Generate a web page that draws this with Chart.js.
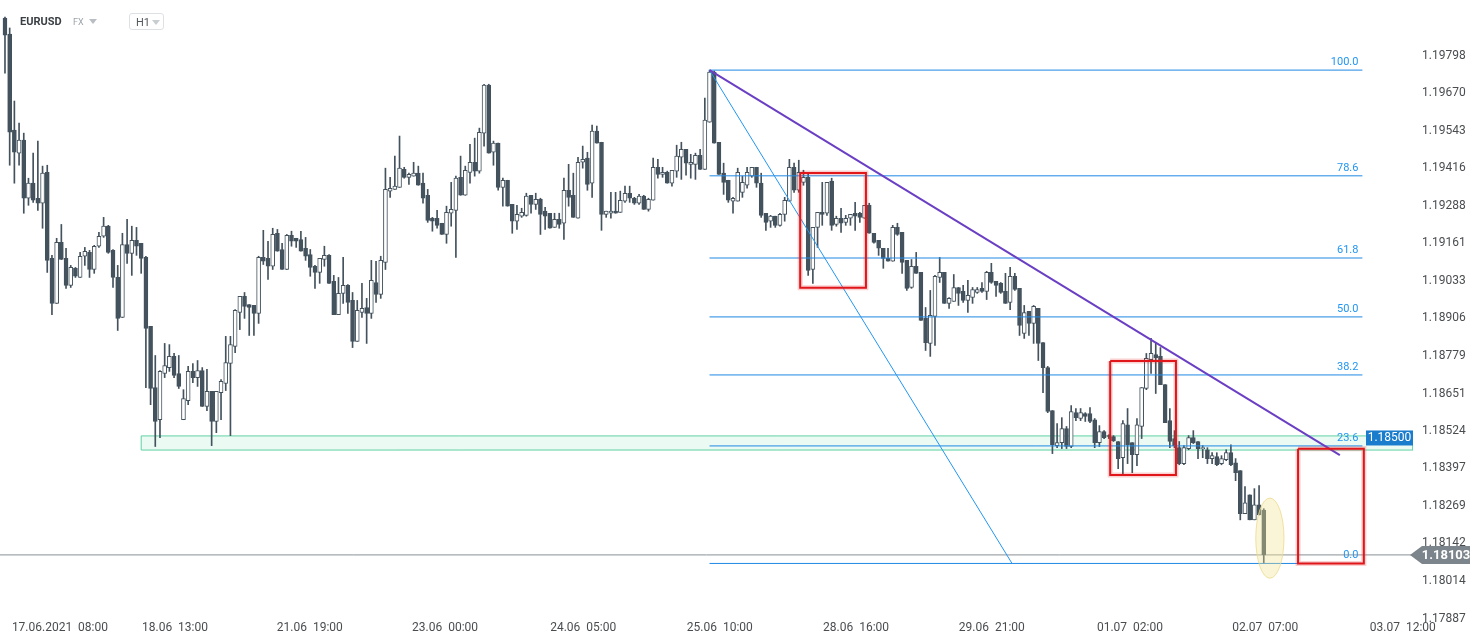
<!DOCTYPE html>
<html>
<head>
<meta charset="utf-8">
<script src="https://cdn.jsdelivr.net/npm/chart.js@4.4.1/dist/chart.umd.min.js"></script>
<style>
  body { margin: 0; background: #fff; font-family: Roboto, "Noto Sans", sans-serif; }
  #wrap { position: relative; width: 1482px; height: 643px; }
  #head { position: absolute; left: 0; top: 0; height: 40px; width: 300px; pointer-events: none; }
  .sym { position: absolute; left: 20px; top: 15px; font-size: 11px; font-weight: bold; color: #3a3f44; }
  .fx { position: absolute; left: 73px; top: 17px; font-size: 9px; color: #9aa3aa; }
  .tri { position: absolute; width: 0; height: 0; border-left: 4px solid transparent; border-right: 4px solid transparent; border-top: 5px solid #b8bec3; }
  .tf { position: absolute; left: 129px; top: 13px; width: 35px; height: 17px; border: 1px solid #dde1e4; border-radius: 3px; box-sizing: border-box; background: #fff; }
  .tf span { position: absolute; left: 6px; top: 2px; font-size: 11px; color: #55595d; }
</style>
</head>
<body>
<div id="wrap">
  <canvas id="chart" width="1482" height="643"></canvas>
  <div id="head">
    <div class="sym">EURUSD</div>
    <div class="fx">FX</div>
    <div class="tri" style="left:89px;top:19px"></div>
    <div class="tf"><span>H1</span><div class="tri" style="left:22px;top:6px;border-top-color:#c8cdd1"></div></div>
  </div>
</div>
<script>
const canvas = document.getElementById("chart").getContext("2d");

// EURUSD H1, candle by candle
const open = [
  1.19926,1.19871,1.19545,1.19467,1.19511,1.19314,1.19365,1.19314,1.19297,1.19402,
  1.19110,1.18957,1.19164,1.19110,1.19018,1.19076,1.19045,1.19117,1.19130,1.19072,
  1.19151,1.19185,1.19219,1.19137,1.19045,1.18909,1.19157,1.19127,1.19171,1.19161,
  1.19113,1.18879,1.18671,1.18562,1.18719,1.18739,1.18777,1.18719,1.18562,1.18627,
  1.18726,1.18705,1.18729,1.18607,1.18658,1.18556,1.18654,1.18685,1.18753,1.18811,
  1.18926,1.18981,1.18953,1.18950,1.18923,1.19113,1.19110,1.19083,1.19195,1.19140,
  1.19072,1.19188,1.19178,1.19174,1.19144,1.19123,1.19083,1.19062,1.19106,1.19120,
  1.19032,1.18919,1.18991,1.19018,1.18967,1.18828,1.18926,1.18943,1.18923,1.19028,
  1.18987,1.19096,1.19338,1.19344,1.19351,1.19412,1.19385,1.19389,1.19399,1.19365,
  1.19324,1.19246,1.19246,1.19229,1.19191,1.19263,1.19273,1.19385,1.19324,1.19402,
  1.19436,1.19406,1.19535,1.19698,1.19470,1.19501,1.19351,1.19375,1.19293,1.19236,
  1.19253,1.19256,1.19324,1.19293,1.19310,1.19270,1.19263,1.19215,1.19242,1.19229,
  1.19341,1.19324,1.19246,1.19436,1.19450,1.19365,1.19542,1.19504,1.19259,1.19263,
  1.19270,1.19266,1.19304,1.19331,1.19314,1.19297,1.19321,1.19276,1.19307,1.19419,
  1.19395,1.19402,1.19365,1.19406,1.19453,1.19480,1.19429,1.19429,1.19460,1.19412,
  1.19572,1.19742,1.19504,1.19399,1.19375,1.19304,1.19304,1.19334,1.19358,1.19389,
  1.19419,1.19365,1.19263,1.19236,1.19253,1.19222,1.19259,1.19304,1.19419,1.19341,
  1.19368,1.19385,1.19072,1.19215,1.19266,1.19263,1.19372,1.19225,1.19246,1.19232,
  1.19246,1.19263,1.19263,1.19246,1.19290,1.19195,1.19171,1.19144,1.19110,1.19100,
  1.19215,1.19198,1.19103,1.19011,1.19083,1.19062,1.18906,1.18821,1.18913,1.19045,
  1.19062,1.18957,1.18964,1.19011,1.18998,1.18967,1.18977,1.18994,1.19008,1.18998,
  1.19062,1.19032,1.19025,1.18998,1.18960,1.19049,1.19008,1.18855,1.18930,1.18889,
  1.18940,1.18824,1.18739,1.18593,1.18474,1.18484,1.18532,1.18471,1.18586,1.18566,
  1.18583,1.18583,1.18562,1.18484,1.18522,1.18508,1.18505,1.18488,1.18433,1.18545,
  1.18484,1.18443,1.18539,1.18668,1.18766,1.18783,1.18777,1.18681,1.18559,1.18498,
  1.18467,1.18413,1.18464,1.18501,1.18488,1.18464,1.18460,1.18430,1.18437,1.18413,
  1.18426,1.18450,1.18416,1.18389,1.18243,1.18307,1.18222,1.18273,1.18255
];
const high = [
  1.19929,1.19892,1.19644,1.19569,1.19535,1.19382,1.19467,1.19508,1.19423,1.19426,
  1.19120,1.19178,1.19225,1.19144,1.19086,1.19079,1.19130,1.19147,1.19137,1.19154,
  1.19198,1.19249,1.19222,1.19140,1.19086,1.19195,1.19242,1.19219,1.19215,1.19161,
  1.19117,1.18879,1.18780,1.18729,1.18821,1.18817,1.18787,1.18780,1.18664,1.18743,
  1.18753,1.18763,1.18739,1.18733,1.18658,1.18658,1.18698,1.18845,1.18845,1.18936,
  1.18981,1.18994,1.18953,1.18950,1.19117,1.19205,1.19168,1.19212,1.19208,1.19161,
  1.19191,1.19202,1.19178,1.19202,1.19181,1.19140,1.19086,1.19110,1.19151,1.19123,
  1.19052,1.19045,1.19113,1.19021,1.18994,1.18967,1.19025,1.18974,1.19103,1.19100,
  1.19117,1.19416,1.19385,1.19457,1.19525,1.19419,1.19399,1.19436,1.19423,1.19399,
  1.19344,1.19249,1.19273,1.19229,1.19287,1.19368,1.19389,1.19457,1.19423,1.19497,
  1.19518,1.19552,1.19701,1.19701,1.19508,1.19501,1.19382,1.19375,1.19293,1.19290,
  1.19280,1.19331,1.19324,1.19331,1.19314,1.19283,1.19263,1.19263,1.19263,1.19382,
  1.19429,1.19399,1.19453,1.19491,1.19470,1.19562,1.19559,1.19504,1.19270,1.19334,
  1.19334,1.19338,1.19355,1.19355,1.19317,1.19327,1.19324,1.19314,1.19450,1.19446,
  1.19419,1.19406,1.19409,1.19494,1.19504,1.19480,1.19463,1.19467,1.19480,1.19654,
  1.19749,1.19746,1.19504,1.19433,1.19375,1.19317,1.19416,1.19389,1.19419,1.19419,
  1.19419,1.19399,1.19263,1.19256,1.19253,1.19263,1.19317,1.19446,1.19433,1.19443,
  1.19409,1.19399,1.19215,1.19266,1.19368,1.19368,1.19382,1.19253,1.19280,1.19256,
  1.19259,1.19300,1.19266,1.19290,1.19297,1.19195,1.19171,1.19144,1.19144,1.19222,
  1.19229,1.19198,1.19103,1.19106,1.19130,1.19062,1.18943,1.19001,1.19052,1.19113,
  1.19062,1.18977,1.19055,1.19011,1.19018,1.19035,1.19011,1.19011,1.19028,1.19066,
  1.19093,1.19032,1.19028,1.19059,1.19079,1.19059,1.19008,1.18950,1.18930,1.18950,
  1.18940,1.18824,1.18743,1.18593,1.18549,1.18569,1.18539,1.18610,1.18600,1.18600,
  1.18586,1.18603,1.18566,1.18542,1.18525,1.18511,1.18508,1.18488,1.18559,1.18600,
  1.18484,1.18566,1.18671,1.18787,1.18838,1.18824,1.18807,1.18681,1.18600,1.18525,
  1.18488,1.18474,1.18508,1.18525,1.18488,1.18474,1.18467,1.18450,1.18450,1.18440,
  1.18460,1.18477,1.18430,1.18389,1.18335,1.18307,1.18328,1.18338,1.18260
];
const low = [
  1.19739,1.19426,1.19365,1.19426,1.19263,1.19290,1.19300,1.19273,1.19212,1.19062,
  1.18919,1.18957,1.19106,1.19008,1.19011,1.19045,1.19045,1.19086,1.19045,1.19059,
  1.19147,1.19181,1.19127,1.19011,1.18865,1.18909,1.19093,1.19052,1.19120,1.19059,
  1.18671,1.18613,1.18471,1.18501,1.18705,1.18726,1.18705,1.18668,1.18562,1.18613,
  1.18688,1.18675,1.18607,1.18593,1.18474,1.18518,1.18562,1.18661,1.18508,1.18790,
  1.18868,1.18906,1.18848,1.18848,1.18889,1.19089,1.19038,1.19072,1.19134,1.19072,
  1.19072,1.19151,1.19147,1.19134,1.19103,1.19049,1.19008,1.19025,1.19083,1.19025,
  1.18919,1.18919,1.18957,1.18923,1.18807,1.18828,1.18909,1.18821,1.18906,1.18960,
  1.18974,1.19072,1.19317,1.19344,1.19351,1.19382,1.19361,1.19389,1.19358,1.19297,
  1.19232,1.19202,1.19212,1.19191,1.19161,1.19219,1.19113,1.19324,1.19324,1.19365,
  1.19389,1.19399,1.19491,1.19467,1.19426,1.19341,1.19287,1.19287,1.19195,1.19208,
  1.19249,1.19253,1.19263,1.19276,1.19191,1.19208,1.19212,1.19215,1.19212,1.19174,
  1.19287,1.19249,1.19246,1.19416,1.19341,1.19317,1.19501,1.19205,1.19249,1.19246,
  1.19263,1.19266,1.19300,1.19300,1.19293,1.19293,1.19276,1.19270,1.19307,1.19382,
  1.19385,1.19365,1.19355,1.19385,1.19378,1.19392,1.19382,1.19378,1.19412,1.19412,
  1.19572,1.19501,1.19395,1.19327,1.19300,1.19263,1.19304,1.19317,1.19348,1.19385,
  1.19351,1.19249,1.19205,1.19215,1.19215,1.19219,1.19236,1.19304,1.19334,1.19334,
  1.19358,1.19052,1.19025,1.19147,1.19222,1.19256,1.19205,1.19219,1.19198,1.19222,
  1.19222,1.19205,1.19232,1.19246,1.19195,1.19161,1.19120,1.19076,1.19100,1.19100,
  1.19188,1.19059,1.19001,1.19008,1.19059,1.18899,1.18797,1.18777,1.18814,1.19028,
  1.18957,1.18940,1.18964,1.18950,1.18960,1.18926,1.18957,1.18991,1.18994,1.18970,
  1.19025,1.18981,1.18991,1.18957,1.18936,1.19001,1.18848,1.18838,1.18848,1.18821,
  1.18763,1.18654,1.18586,1.18447,1.18467,1.18464,1.18464,1.18467,1.18559,1.18559,
  1.18556,1.18552,1.18467,1.18471,1.18498,1.18498,1.18488,1.18396,1.18372,1.18413,
  1.18382,1.18406,1.18498,1.18664,1.18719,1.18651,1.18681,1.18552,1.18467,1.18467,
  1.18409,1.18409,1.18460,1.18481,1.18430,1.18433,1.18413,1.18413,1.18406,1.18409,
  1.18423,1.18406,1.18355,1.18222,1.18243,1.18222,1.18222,1.18239,1.18074
];
const close = [
  1.19868,1.19538,1.19470,1.19511,1.19314,1.19365,1.19307,1.19297,1.19399,1.19103,
  1.18957,1.19164,1.19106,1.19018,1.19079,1.19049,1.19117,1.19134,1.19072,1.19151,
  1.19185,1.19219,1.19130,1.19045,1.18906,1.19157,1.19127,1.19171,1.19151,1.19110,
  1.18872,1.18668,1.18556,1.18726,1.18746,1.18777,1.18712,1.18675,1.18634,1.18726,
  1.18705,1.18729,1.18607,1.18658,1.18556,1.18658,1.18692,1.18756,1.18817,1.18933,
  1.18981,1.18947,1.18943,1.18923,1.19113,1.19100,1.19083,1.19191,1.19134,1.19072,
  1.19188,1.19168,1.19168,1.19134,1.19117,1.19079,1.19062,1.19110,1.19120,1.19025,
  1.18919,1.18991,1.19018,1.18960,1.18828,1.18933,1.18940,1.18923,1.19035,1.18987,
  1.19103,1.19344,1.19348,1.19355,1.19416,1.19385,1.19395,1.19399,1.19358,1.19314,
  1.19239,1.19236,1.19222,1.19191,1.19266,1.19276,1.19382,1.19324,1.19409,1.19436,
  1.19406,1.19538,1.19698,1.19467,1.19501,1.19351,1.19375,1.19287,1.19236,1.19259,
  1.19266,1.19321,1.19293,1.19310,1.19259,1.19253,1.19212,1.19242,1.19225,1.19341,
  1.19317,1.19249,1.19436,1.19446,1.19361,1.19542,1.19501,1.19259,1.19270,1.19270,
  1.19263,1.19307,1.19331,1.19314,1.19297,1.19321,1.19276,1.19310,1.19419,1.19395,
  1.19402,1.19365,1.19409,1.19457,1.19480,1.19433,1.19436,1.19460,1.19412,1.19579,
  1.19742,1.19501,1.19395,1.19368,1.19307,1.19314,1.19402,1.19368,1.19402,1.19419,
  1.19365,1.19256,1.19232,1.19253,1.19222,1.19259,1.19307,1.19419,1.19341,1.19402,
  1.19385,1.19069,1.19215,1.19266,1.19259,1.19368,1.19222,1.19246,1.19229,1.19246,
  1.19259,1.19253,1.19249,1.19290,1.19195,1.19164,1.19144,1.19110,1.19100,1.19215,
  1.19191,1.19096,1.19008,1.19083,1.19059,1.18899,1.18824,1.18916,1.19049,1.19062,
  1.18957,1.18974,1.19011,1.18991,1.18967,1.18984,1.19004,1.19004,1.18998,1.19062,
  1.19028,1.19018,1.18994,1.18957,1.19049,1.19004,1.18882,1.18926,1.18889,1.18947,
  1.18821,1.18739,1.18590,1.18477,1.18484,1.18532,1.18471,1.18590,1.18569,1.18586,
  1.18573,1.18556,1.18484,1.18522,1.18501,1.18505,1.18491,1.18430,1.18549,1.18477,
  1.18443,1.18545,1.18671,1.18770,1.18787,1.18773,1.18681,1.18552,1.18488,1.18474,
  1.18413,1.18467,1.18501,1.18484,1.18464,1.18467,1.18430,1.18440,1.18409,1.18430,
  1.18450,1.18409,1.18382,1.18243,1.18280,1.18222,1.18273,1.18239,1.18103
];

// axis ticks (x in candle index units)
const timeTicks = [11.7, 36.2, 64.9, 93.7, 123.1, 152.2, 181.2, 210.1, 239.5, 268.3, 297.6];
const timeLabels = ["17.06.2021  08:00", "18.06  13:00", "21.06  19:00", "23.06  00:00", "24.06  05:00",
  "25.06  10:00", "28.06  16:00", "29.06  21:00", "01.07  02:00", "02.07  07:00", "03.07  12:00"];
const priceTicks = [1.19798, 1.19670, 1.19543, 1.19416, 1.19288, 1.19161, 1.19033, 1.18906,
  1.18779, 1.18651, 1.18524, 1.18397, 1.18269, 1.18142, 1.18014, 1.17887];

// drawings
const fibNames = ["100.0", "78.6", "61.8", "50.0", "38.2", "23.6", "0.0"];
const fibPrices = [1.19749, 1.19390, 1.19111, 1.18911, 1.18714, 1.18473, 1.18074];
const fibSpan = [150, 289];
const trendLine = [[150, 1.19749], [284.2, 1.18442]];
const fanLine = [[150, 1.19749], [214.4, 1.18074]];
const redBoxes = [[169.3, 183.3, 1.19400, 1.19010], [235.3, 249.3, 1.18761, 1.18374], [275.3, 289.3, 1.18463, 1.18074]];
const zoneBox = [29, 299.77, 1.18507, 1.18459];
const spot = [269.3, 1.18160, 3.0, 0.00136];
const lastPrice = 1.18103;
const levelTag = 1.18500;

const X_MIN = -1.06, X_MAX = 299.77;
const candleColor = "#43525d";

const box_points = (b) => [
  { x: b[0], y: b[2] }, { x: b[1], y: b[2] }, { x: b[1], y: b[3] }, { x: b[0], y: b[3] }, { x: b[0], y: b[2] }
];

const lineSet = (data, color, width, order, extra) => Object.assign({
  type: "line", data: data, borderColor: color, borderWidth: width, pointRadius: 0,
  fill: false, tension: 0, order: order
}, extra || {});

const wicks = open.map((o, i) => ({ x: i, y: [low[i], high[i]] }));
const bodies = open.map((o, i) => ({ x: i, y: [o, close[i]] }));
const isUp = (i) => close[i] >= open[i];

const datasets = [
  lineSet(box_points(zoneBox), "#5fd1a4", 1, 20, { fill: "shape", backgroundColor: "rgba(210,243,229,0.45)" }),
  lineSet([{ x: X_MIN, y: lastPrice }, { x: X_MAX, y: lastPrice }], "#8a9095", 1, 19),
  {
    type: "bar", data: wicks, backgroundColor: candleColor, barThickness: 1, grouped: false, order: 11
  },
  {
    type: "bar", data: bodies, grouped: false, order: 10, barThickness: 4, minBarLength: 1,
    borderWidth: 1, borderSkipped: false, borderColor: candleColor,
    backgroundColor: (c) => isUp(c.dataIndex) ? "#ffffff" : candleColor
  }
];
fibPrices.forEach((p) => {
  datasets.push(lineSet([{ x: fibSpan[0], y: p }, { x: fibSpan[1], y: p }], "#1e88e5", 1, 5));
});
datasets.push(lineSet(fanLine.map((p) => ({ x: p[0], y: p[1] })), "#2196f3", 1, 4));
datasets.push(lineSet(trendLine.map((p) => ({ x: p[0], y: p[1] })), "#6a3fc4", 2, 3));
redBoxes.forEach((b) => {
  datasets.push(lineSet(box_points(b), "rgba(230,40,40,0.22)", 5, 2));
  datasets.push(lineSet(box_points(b), "#e0161b", 2, 1));
});

const overlay = {
  id: "overlay",
  afterDatasetsDraw(chart) {
    const { ctx, scales: { x, y } } = chart;
    ctx.save();
    const cx = x.getPixelForValue(spot[0]);
    const cy = y.getPixelForValue(spot[1]);
    const rx = Math.abs(x.getPixelForValue(spot[0] + spot[2]) - cx);
    const ry = Math.abs(y.getPixelForValue(spot[1] + spot[3]) - cy);
    ctx.beginPath();
    ctx.ellipse(cx, cy, rx, ry, 0, 0, Math.PI * 2);
    ctx.fillStyle = "rgba(243,228,150,0.38)";
    ctx.fill();
    ctx.strokeStyle = "rgba(236,218,140,0.8)";
    ctx.lineWidth = 1;
    ctx.stroke();

    ctx.font = "11px Roboto";
    ctx.fillStyle = "#2196f3";
    ctx.textAlign = "right";
    ctx.textBaseline = "alphabetic";
    const fx = x.getPixelForValue(fibSpan[1]) - 4;
    fibPrices.forEach((p, i) => {
      ctx.fillText(fibNames[i], fx, y.getPixelForValue(p) - 5);
    });
    ctx.restore();
  },
  afterDraw(chart) {
    const { ctx, chartArea, scales: { y } } = chart;
    ctx.save();
    // level tag
    let py = y.getPixelForValue(levelTag);
    ctx.fillStyle = "#1a7ccc";
    ctx.fillRect(chartArea.right - 47, py - 7.5, 47, 15);
    ctx.fillStyle = "#ffffff";
    ctx.font = "12px Roboto";
    ctx.textAlign = "center";
    ctx.textBaseline = "middle";
    ctx.fillText(levelTag.toFixed(5), chartArea.right - 23.5, py + 0.5);
    // last price tag
    py = y.getPixelForValue(lastPrice);
    const l = chartArea.right - 3;
    ctx.beginPath();
    ctx.moveTo(l, py);
    ctx.lineTo(l + 12, py - 9);
    ctx.lineTo(l + 60, py - 9);
    ctx.lineTo(l + 60, py + 9);
    ctx.lineTo(l + 12, py + 9);
    ctx.closePath();
    ctx.fillStyle = "#7c858b";
    ctx.fill();
    ctx.fillStyle = "#ffffff";
    ctx.font = "bold 13px Roboto";
    ctx.fillText(lastPrice.toFixed(5), l + 36, py + 0.5);
    ctx.restore();
  }
};

const chart = new Chart(canvas, {
  type: "bar",
  data: { datasets: datasets },
  plugins: [overlay],
  options: {
    responsive: false,
    animation: false,
    devicePixelRatio: 1,
    layout: { padding: 0 },
    plugins: { legend: { display: false }, tooltip: { enabled: false } },
    scales: {
      x: {
        type: "linear",
        min: X_MIN,
        max: X_MAX,
        offset: false,
        grid: { display: false, drawTicks: false },
        border: { display: false },
        afterFit: (s) => { s.height = 23; s.paddingLeft = 0; s.paddingRight = 0; },
        afterBuildTicks: (s) => { s.ticks = timeTicks.map((v) => ({ value: v })); },
        ticks: {
          autoSkip: false, maxRotation: 0, padding: 1,
          color: "#4a4d50", font: { family: "Roboto", size: 12 },
          callback: (v, i) => timeLabels[i]
        }
      },
      y: {
        type: "linear",
        position: "right",
        min: 1.17882,
        max: 1.19987,
        grid: { display: false, drawTicks: false },
        border: { display: false },
        afterFit: (s) => { s.width = 69; s.paddingTop = 0; s.paddingBottom = 0; },
        afterBuildTicks: (s) => { s.ticks = priceTicks.map((v) => ({ value: v })); },
        ticks: {
          autoSkip: false, padding: 9,
          color: "#4a4d50", font: { family: "Roboto", size: 12 },
          callback: (v) => v.toFixed(5)
        }
      }
    }
  }
});
</script>
</body>
</html>
